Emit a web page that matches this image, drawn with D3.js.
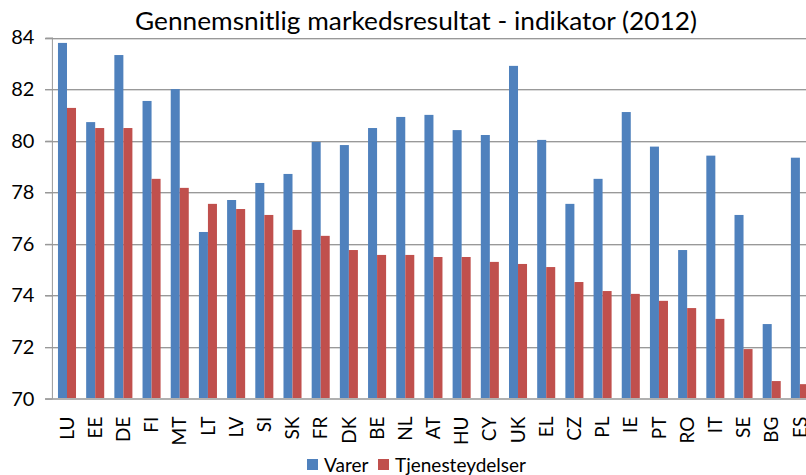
<!DOCTYPE html>
<html>
<head>
<meta charset="utf-8">
<script src="https://cdn.jsdelivr.net/npm/d3@7"></script>
<style>
  html, body { margin: 0; padding: 0; background: #fff; overflow: hidden; }
  svg { display: block; font-family: Lato, "Open Sans", sans-serif; }
</style>
</head>
<body>
<svg id="barChart"></svg>
<script>
const countries = ["LU", "EE", "DE", "FI", "MT", "LT", "LV", "SI", "SK", "FR", "DK", "BE", "NL", "AT",
  "HU", "CY", "UK", "EL", "CZ", "PL", "IE", "PT", "RO", "IT", "SE", "BG", "ES"];
const varer = [83.79, 80.72, 83.32, 81.54, 82.0, 76.46, 77.7, 78.36, 78.71, 79.95, 79.83, 80.49, 80.92, 81.0,
  80.41, 80.22, 82.9, 80.03, 77.55, 78.52, 81.11, 79.77, 75.76, 79.42, 77.12, 72.89, 79.34];
const tjenester = [81.27, 80.49, 80.49, 78.52, 78.17, 77.55, 77.35, 77.12, 76.54, 76.31, 75.76, 75.57, 75.57, 75.49,
  75.49, 75.3, 75.22, 75.1, 74.52, 74.17, 74.06, 73.79, 73.51, 73.09, 71.92, 70.68, 70.56];
const seriesNames = ["Varer", "Tjenesteydelser"];
const yTicks = [70, 72, 74, 76, 78, 80, 82, 84];
const titleText = "Gennemsnitlig markedsresultat - indikator (2012)";

document.addEventListener("DOMContentLoaded", () => {
  const W = 806, H = 475;
  const colors = ["#4f81bd", "#c0504d"];

  const svg = d3.select("#barChart")
    .attr("width", W)
    .attr("height", H);

  // plot area runs past the right edge, like the cropped original
  const plotLeft = 52.9, plotRight = 814;
  const x = d3.scaleBand()
    .domain(countries)
    .range([plotLeft, plotRight])
    .paddingInner(0.36)
    .paddingOuter(0.18);
  const xs = d3.scaleBand()
    .domain(seriesNames)
    .range([0, x.bandwidth()]);
  const y = d3.scaleLinear()
    .domain([70, 84])
    .range([398.6, 37.5]);

  // gridlines
  const grid = svg.append("g");
  grid.selectAll("line.shade")
    .data(yTicks.slice(1))
    .enter()
    .append("line")
    .attr("x1", 45).attr("x2", W)
    .attr("y1", (d) => Math.round(y(d)) + 1.5)
    .attr("y2", (d) => Math.round(y(d)) + 1.5)
    .attr("stroke", "#dadada");
  grid.selectAll("line.main")
    .data(yTicks.slice(1))
    .enter()
    .append("line")
    .attr("x1", 45).attr("x2", W)
    .attr("y1", (d) => Math.round(y(d)) + 0.5)
    .attr("y2", (d) => Math.round(y(d)) + 0.5)
    .attr("stroke", "#999");

  // bars
  const rows = countries.map((c, i) => ({ country: c, values: [varer[i], tjenester[i]] }));
  const groups = svg.append("g")
    .selectAll("g")
    .data(rows)
    .enter()
    .append("g")
    .attr("transform", (d) => `translate(${x(d.country)},0)`);
  groups.selectAll("rect")
    .data((d) => d.values.map((v, k) => ({ name: seriesNames[k], value: v, k })))
    .enter()
    .append("rect")
    .attr("x", (d) => xs(d.name))
    .attr("width", xs.bandwidth())
    .attr("y", (d) => y(d.value))
    .attr("height", (d) => y(70) - y(d.value))
    .attr("fill", (d) => colors[d.k]);

  // x axis baseline
  svg.append("line")
    .attr("x1", 45).attr("x2", W)
    .attr("y1", y(70) + 0.5).attr("y2", y(70) + 0.5)
    .attr("stroke", "#b0b0b0")
    .attr("stroke-width", 2);

  // y axis
  const yAxis = svg.append("g")
    .attr("transform", `translate(${plotLeft - 0.5},0)`)
    .call(d3.axisLeft(y).tickValues(yTicks).tickSize(7).tickPadding(11).tickFormat(d3.format("d")));
  yAxis.select(".domain").attr("stroke", "#999").attr("d", `M0,${y(84)}V${y(70)}`);
  yAxis.selectAll(".tick line").attr("stroke", "#999");
  yAxis.selectAll("text")
    .attr("font-size", 20)
    .attr("font-family", "Lato, sans-serif")
    .attr("fill", "#000");

  // category labels
  const xAxis = svg.append("g")
    .attr("transform", `translate(0,${y(70) + 18})`)
    .call(d3.axisBottom(x).tickSize(0).tickPadding(0));
  xAxis.select(".domain").remove();
  xAxis.selectAll("text")
    .attr("font-size", 19)
    .attr("font-family", "Lato, sans-serif")
    .attr("fill", "#000")
    .attr("transform", "rotate(-90)")
    .attr("x", 0)
    .attr("y", 0)
    .attr("dy", "0.35em")
    .style("text-anchor", "end");

  // title
  svg.append("text")
    .attr("x", 416)
    .attr("y", 30)
    .attr("text-anchor", "middle")
    .attr("font-size", 25)
    .attr("textLength", 562)
    .attr("lengthAdjust", "spacingAndGlyphs")
    .attr("fill", "#000")
    .text(titleText);

  // legend
  const legend = svg.append("g").attr("transform", "translate(307,459)");
  const legendX = [0, 71];
  seriesNames.forEach((name, k) => {
    legend.append("rect")
      .attr("x", legendX[k]).attr("y", 0)
      .attr("width", 11).attr("height", 11)
      .attr("fill", colors[k]);
    legend.append("text")
      .attr("x", legendX[k] + 17)
      .attr("y", 13)
      .attr("font-size", 19)
      .attr("fill", "#000")
      .text(name);
  });
});
</script>
</body>
</html>
